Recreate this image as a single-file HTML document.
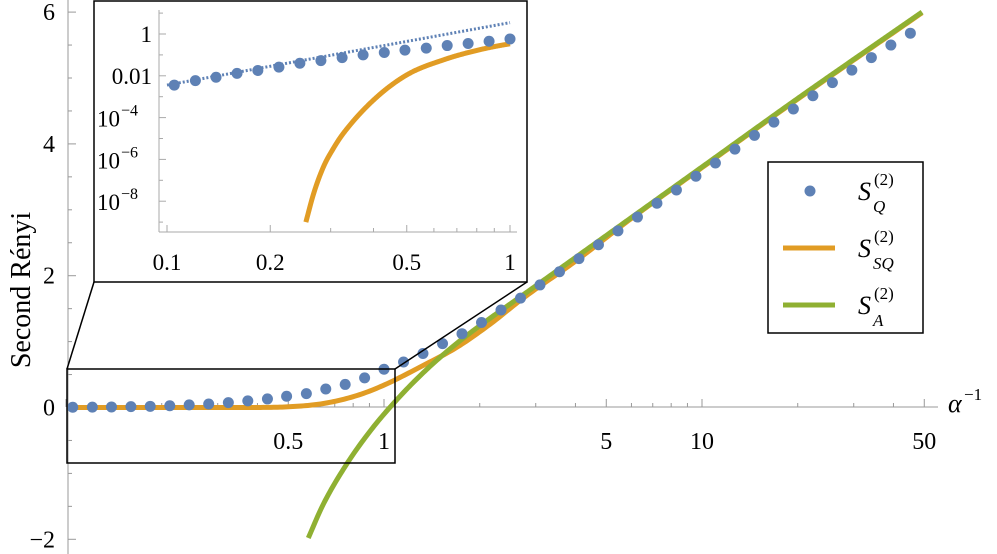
<!DOCTYPE html>
<html><head><meta charset="utf-8"><style>
html,body{margin:0;padding:0;background:#fff;}
svg{display:block;font-family:"Liberation Serif",serif;}
</style></head><body>
<svg id="c" width="997" height="554" viewBox="0 0 997 554">
<defs><clipPath id="mainclip"><rect x="68" y="0" width="929" height="554"/></clipPath>
<clipPath id="insetclip"><rect x="159" y="5" width="370" height="227"/></clipPath></defs>
<g id="main-axes"></g>
<g id="main-series" clip-path="url(#mainclip)"></g>
<g id="zoom-guides"></g>
<g id="inset"></g>
<g id="legend">
<rect x="768" y="162" width="155" height="171" fill="#fff" stroke="#000" stroke-width="1.5"/>
<g><circle cx="810" cy="191" r="5.5" fill="#5E81B5"/>
<text x="858" y="200" font-size="26" font-style="italic">S</text><text x="874" y="185" font-size="17">(2)</text><text x="873" y="212" font-size="17" font-style="italic">Q</text></g>
<g><line x1="783" y1="248" x2="835" y2="248" stroke="#E19C24" stroke-width="5"/>
<text x="858" y="257" font-size="26" font-style="italic">S</text><text x="874" y="242" font-size="17">(2)</text><text x="873" y="269" font-size="17" font-style="italic">SQ</text></g>
<g><line x1="783" y1="305" x2="835" y2="305" stroke="#8FB032" stroke-width="5"/>
<text x="858" y="314" font-size="26" font-style="italic">S</text><text x="874" y="299" font-size="17">(2)</text><text x="873" y="326" font-size="17" font-style="italic">A</text></g>
</g>
</svg>
<script>
// ---- data ----
const qX = [0.105,0.121,0.139,0.160,0.184,0.212,0.244,0.281,0.324,0.373,0.430,0.494,0.570,0.656,0.755,0.869,1.0,1.152,1.326,1.528,1.759,2.026,2.333,2.687,3.094,3.563,4.103,4.725,5.441,6.266,7.216,8.310,9.570,11.02,12.69,14.62,16.83,19.38,22.32,25.71,29.60,34.09,39.26,45.21];
const qY = [0.0036,0.0059,0.0085,0.013,0.018,0.026,0.040,0.053,0.074,0.10,0.13,0.17,0.21,0.28,0.35,0.45,0.58,0.69,0.82,0.97,1.12,1.29,1.48,1.66,1.86,2.06,2.26,2.47,2.68,2.89,3.10,3.30,3.51,3.71,3.92,4.13,4.33,4.53,4.73,4.93,5.12,5.31,5.50,5.68];
const sqX = [0.1,0.2,0.254,0.268,0.286,0.305,0.327,0.4,0.5,0.644,0.82,1.0,1.33,1.69,2.15,2.74,4,6,10,20,49.2];
const sqY = [0,0,1e-9,2.5e-8,4.5e-7,3.2e-6,1.8e-5,6.9e-4,0.011,0.06,0.18,0.34,0.64,0.91,1.26,1.66,2.22,2.87,3.64,4.68,5.99];
const saX = [0.578,0.644,0.763,0.904,1.07,1.33,1.69,2.15,2.74,5,10,20,49.2];
const saY = [-1.98,-1.47,-0.86,-0.36,0.06,0.53,0.97,1.35,1.71,2.61,3.65,4.69,6.0];
const fitX = [0.1,1.0];
const fitY = [0.0036,3.5];
const yTicks = [-2,0,2,4,6];
const yTickLabels = ["\u22122","0","2","4","6"];
const xTickLabels = ["0.5","1","5","10","50"];
const xTickVals = [0.5,1,5,10,50];
const inXTickVals = [0.1,0.2,0.5,1];
const inXTickLabels = ["0.1","0.2","0.5","1"];
const inYTickExp = [0,-2,-4,-6,-8];

const NS="http://www.w3.org/2000/svg";
function mk(tag,attrs,parent){const e=document.createElementNS(NS,tag);for(const k in attrs)e.setAttribute(k,attrs[k]);parent.appendChild(e);return e;}
const X=x=>384+318*Math.log10(x);
const Y=y=>407.5-65.9*y;
const IX=x=>510+343*Math.log10(x);
const IY=y=>34-20.9*Math.log10(y);
function monotone(xs,ys){const n=xs.length,d=[],m=[];
for(let i=0;i<n-1;i++)d.push((ys[i+1]-ys[i])/(xs[i+1]-xs[i]));
m[0]=d[0];m[n-1]=d[n-2];
for(let i=1;i<n-1;i++){m[i]=(d[i-1]*d[i]<=0)?0:(d[i-1]+d[i])/2;}
for(let i=0;i<n-1;i++){if(d[i]===0){m[i]=0;m[i+1]=0;continue;}const a=m[i]/d[i],b=m[i+1]/d[i],s=a*a+b*b;if(s>9){const t=3/Math.sqrt(s);m[i]=t*a*d[i];m[i+1]=t*b*d[i];}}
return function(x){let i=0;while(i<n-2&&x>xs[i+1])i++;const h=xs[i+1]-xs[i],t=(x-xs[i])/h,t2=t*t,t3=t2*t;
return (2*t3-3*t2+1)*ys[i]+(t3-2*t2+t)*h*m[i]+(-2*t3+3*t2)*ys[i+1]+(t3-t2)*h*m[i+1];};}
function curvePath(xs,ys,fx,fy,logY,xmin,xmax){const lx=xs.map(v=>Math.log10(v));const vy=logY?ys.map(v=>Math.log10(v)):ys;const f=monotone(lx,vy);
const a=Math.log10(xmin),b=Math.log10(xmax);let d="";const N=400;for(let k=0;k<=N;k++){const u=a+(b-a)*k/N;let v=f(u);if(logY)v=Math.pow(10,v);d+=(k?"L":"M")+fx(Math.pow(10,u)).toFixed(2)+","+fy(v).toFixed(2);}return d;}

const ax=document.getElementById('main-axes');
let e;
e=mk('line',{x1:68,y1:0,x2:68,y2:554,stroke:'#999','stroke-width':1},ax);


e=mk('line',{x1:68,y1:407,x2:938,y2:407,stroke:'#999','stroke-width':1},ax);


for(let v=-2;v<=6.01;v+=0.5){const major=Math.abs(v%2)<0.01;mk('line',{x1:68,y1:Y(v),x2:68+(major?8:4),y2:Y(v),stroke:'#999'},ax);}
yTicks.forEach((v,i)=>{const t=mk('text',{x:55,y:Y(v)+8,'font-size':24,'text-anchor':'end'},ax);t.textContent=yTickLabels[i];

});
for(let dec=0.1;dec<=10;dec*=10){for(let m=1;m<=9;m++){const v=m*dec;if(v<0.1||v>50)continue;const major=(m===1||m===5);mk('line',{x1:X(v),y1:407,x2:X(v),y2:407-(major?8:4),stroke:'#999'},ax);}}
xTickVals.forEach((v,i)=>{const t=mk('text',{x:X(v),y:449,'font-size':24,'text-anchor':'middle'},ax);t.textContent=xTickLabels[i];

});
e=mk('text',{x:948,y:412,'font-size':26,'font-style':'italic'},ax);e.textContent='α';


e=mk('text',{x:964,y:400,'font-size':17},ax);e.textContent='\u22121';
e=mk('text',{x:0,y:0,'font-size':28,'text-anchor':'middle',transform:'translate(30,290) rotate(-90)'},ax);e.textContent='Second Rényi';



const ms=document.getElementById('main-series');
e=mk('path',{d:curvePath(sqX,sqY,X,Y,false,sqX[0],sqX[sqX.length-1]),fill:'none',stroke:'#E19C24','stroke-width':5},ms);


e=mk('path',{d:curvePath(saX,saY,X,Y,false,saX[0],saX[saX.length-1]),fill:'none',stroke:'#8FB032','stroke-width':5},ms);


qX.forEach((x,i)=>{const c=mk('circle',{cx:X(x),cy:Y(qY[i]),r:5.5,fill:'#5E81B5'},ms);

});

const zg=document.getElementById('zoom-guides');
mk('rect',{x:67,y:369,width:328,height:94,fill:'none',stroke:'#000','stroke-width':1.5},zg);
mk('line',{x1:67,y1:369,x2:94,y2:282,stroke:'#000','stroke-width':1.5},zg);
mk('line',{x1:395,y1:369,x2:527,y2:282,stroke:'#000','stroke-width':1.5},zg);

const ins=document.getElementById('inset');
mk('rect',{x:94,y:1,width:433,height:281,fill:'#fff',stroke:'#000','stroke-width':1.5},ins);
mk('line',{x1:159,y1:10,x2:159,y2:232,stroke:'#aaa'},ins);
mk('line',{x1:159,y1:232,x2:517,y2:232,stroke:'#aaa'},ins);
for(let ex=1;ex>=-9;ex--){mk('line',{x1:159,y1:IY(Math.pow(10,ex)),x2:159+(ex%2===0?7:4),y2:IY(Math.pow(10,ex)),stroke:'#aaa'},ins);}
for(let m=1;m<=10;m++){const v=m/10;mk('line',{x1:IX(v),y1:232,x2:IX(v),y2:232-((m===1||m===2||m===5||m===10)?7:4),stroke:'#aaa'},ins);}
inXTickVals.forEach((v,i)=>{const t=mk('text',{x:IX(v),y:270,'font-size':23,'text-anchor':'middle'},ins);t.textContent=inXTickLabels[i];

});
inYTickExp.forEach(ex=>{const yy=IY(Math.pow(10,ex));let t;
if(ex===0){t=mk('text',{x:152,y:yy+8,'font-size':23,'text-anchor':'end'},ins);t.textContent='1';}
else if(ex===-2){t=mk('text',{x:152,y:yy+8,'font-size':23,'text-anchor':'end'},ins);t.textContent='0.01';}
else{t=mk('text',{x:120,y:yy+9,'font-size':23,'text-anchor':'end'},ins);t.textContent='10';const s=mk('text',{x:121,y:yy-2,'font-size':16},ins);s.textContent='\u2212'+(-ex);}

});
const ic=mk('g',{'clip-path':'url(#insetclip)'},ins);
e=mk('line',{x1:IX(fitX[0]),y1:IY(fitY[0]),x2:IX(fitX[1]),y2:IY(fitY[1]),stroke:'#5E81B5','stroke-width':3,'stroke-dasharray':'2,2'},ic);


const ixs=[],iys=[];sqX.forEach((x,i)=>{if(sqY[i]>0){ixs.push(x);iys.push(sqY[i]);}});
e=mk('path',{d:curvePath(ixs,iys,IX,IY,true,ixs[0],1.0),fill:'none',stroke:'#E19C24','stroke-width':5},ic);


qX.forEach((x,i)=>{if(x>1.001)return;const c=mk('circle',{cx:IX(x),cy:IY(qY[i]),r:5.5,fill:'#5E81B5'},ic);

});
</script>
</body></html>
